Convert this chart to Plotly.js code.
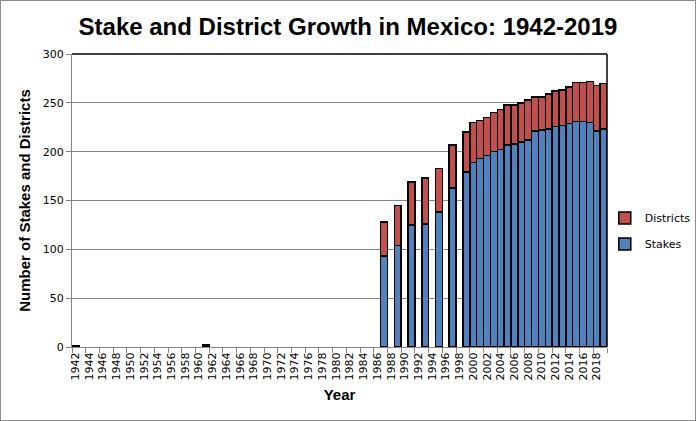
<!DOCTYPE html>
<html>
<head>
<meta charset="utf-8">
<script src="https://cdn.plot.ly/plotly-3.0.1.min.js"></script>
<style>
html,body{margin:0;padding:0;background:#fff;}
#chart{width:694px;height:419px;border:1px solid #8c8c8c;}
</style>
</head>
<body>
<div id="chart"></div>
<script>
const years = [];
for (let y = 1942; y <= 2019; y++) years.push(y);

const dataYears = [1942, 1961, 1987, 1989, 1991, 1993, 1995, 1997, 1999,
  2000, 2001, 2002, 2003, 2004, 2005, 2006, 2007, 2008, 2009,
  2010, 2011, 2012, 2013, 2014, 2015, 2016, 2017, 2018, 2019];
const stakes = [1, 2, 93, 104, 125, 126, 138, 163, 179,
  189, 193, 196, 200, 202, 207, 208, 210, 212, 221,
  222, 223, 226, 227, 229, 231, 231, 230, 221, 223];
const districts = [0, 0, 35, 41, 44, 47, 45, 44, 41,
  41, 39, 39, 40, 41, 41, 40, 40, 41, 35,
  34, 36, 36, 36, 37, 40, 40, 42, 47, 47];
const tickYears = years.filter(y => y % 2 === 0);

const font = "Verdana, 'DejaVu Sans', sans-serif";
const bold = "'Liberation Sans', Arial, sans-serif";
const traces = [
  {type: 'bar', name: 'Stakes', x: dataYears, y: stakes, legendgroup: 's', legendrank: 2,
   marker: {color: '#4F81BD', line: {color: '#000', width: 1.5}}},
  {type: 'bar', name: 'Districts', x: dataYears, y: districts, legendgroup: 'd', legendrank: 1,
   marker: {color: '#C0504D', line: {color: '#000', width: 1.5}}}
];

const layout = {
  width: 694, height: 419,
  margin: {l: 71, r: 88, t: 53, b: 73, autoexpand: false},
  paper_bgcolor: '#fff', plot_bgcolor: '#fff',
  barmode: 'stack', bargap: 0,
  showlegend: true,
  title: {text: 'Stake and District Growth in Mexico: 1942-2019',
    font: {family: bold, size: 24, color: '#000', weight: 'bold'},
    x: 0.5, xanchor: 'center', y: 0.94, yanchor: 'middle'},
  xaxis: {
    range: [1941.5, 2019.5],
    tickmode: 'array', tickvals: tickYears, ticktext: tickYears.map(String),
    tickangle: -90, ticks: '', showgrid: false, zeroline: false,
    showline: true, linecolor: '#868686', linewidth: 1,
    tickfont: {family: font, size: 11, color: '#000'},
    minor: {tick0: 1941.5, dtick: 2, ticks: 'outside', ticklen: 5, tickcolor: '#868686', showgrid: false},
    title: {text: 'Year', font: {family: bold, size: 15, color: '#000', weight: 'bold'}, standoff: 10}
  },
  yaxis: {
    range: [0, 300], dtick: 50, tick0: 0,
    showgrid: true, gridcolor: '#868686', gridwidth: 1,
    zeroline: false, showline: true, linecolor: '#868686', linewidth: 1,
    ticks: 'outside', ticklen: 5, tickcolor: '#868686',
    tickfont: {family: font, size: 11, color: '#000'},
    title: {text: 'Number of Stakes and Districts', font: {family: bold, size: 15, color: '#000', weight: 'bold'}, standoff: 8}
  },
  legend: {
    xref: 'container', yref: 'container',
    x: 0.87, xanchor: 'left', y: 0.451, yanchor: 'middle',
    traceorder: 'grouped', bgcolor: 'rgba(0,0,0,0)',
    font: {family: font, size: 11, color: '#000'},
    itemwidth: 30, tracegroupgap: 7
  },
  shapes: [
    {type: 'line', xref: 'paper', yref: 'paper', x0: 0, x1: 1, y0: 1, y1: 1, line: {color: '#000', width: 1.5}},
    {type: 'line', xref: 'paper', yref: 'paper', x0: 1, x1: 1, y0: 0, y1: 1, line: {color: '#000', width: 1.5}}
  ]
};

Plotly.newPlot('chart', traces, layout, {displayModeBar: false, staticPlot: true});
</script>
</body>
</html>
